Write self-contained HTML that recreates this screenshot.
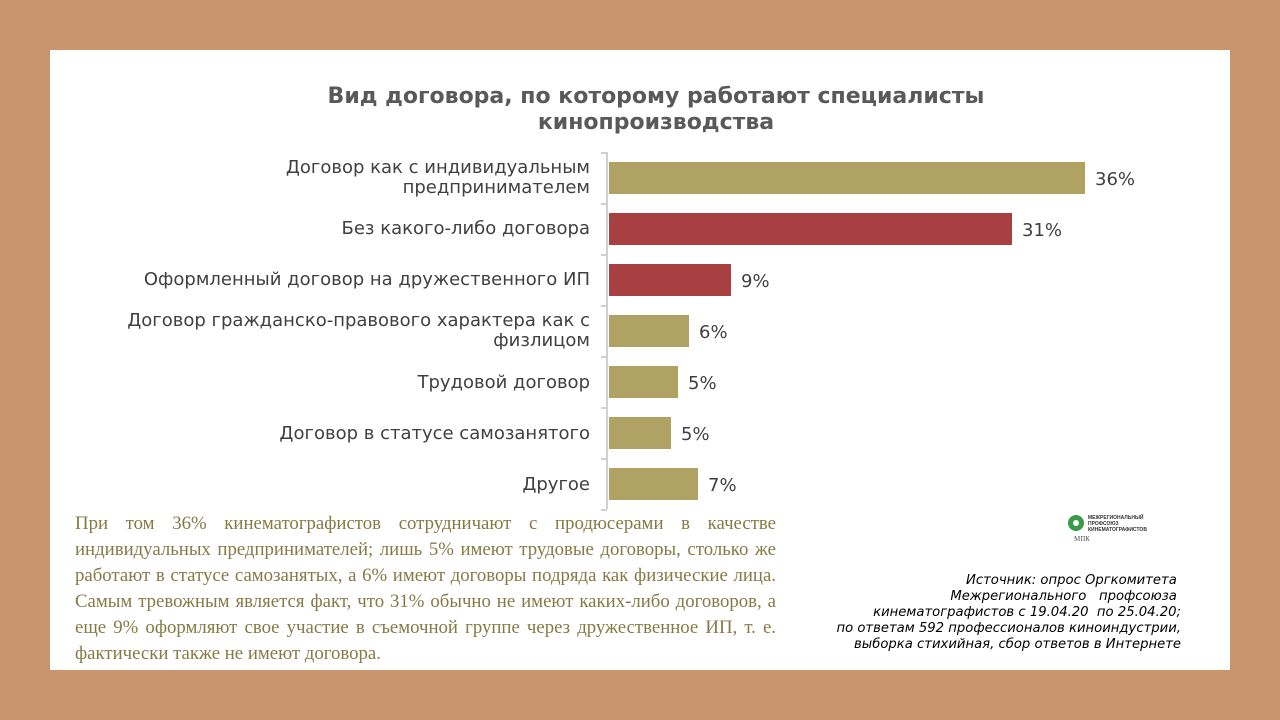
<!DOCTYPE html>
<html><head><meta charset="utf-8"><style>
body{margin:0;width:1280px;height:720px;background:#C8956F;position:relative;overflow:hidden;font-family:"DejaVu Sans",sans-serif}
.p{position:absolute;left:50px;top:50px;width:1180px;height:620px;background:#fff}
.t{position:absolute;left:0;width:1312px;top:84px;text-align:center;font-weight:bold;font-size:22px;line-height:26px;color:#595959}
.c{position:absolute;right:690px;text-align:right;font-size:18px;line-height:20px;color:#404040;width:520px}
.b{position:absolute;left:609px;height:32px}
.v{position:absolute;font-size:18px;color:#404040;line-height:20px}
.g{background:#B0A262}.r{background:#A84042}
.tx{position:absolute;left:75px;top:511px;width:701px;font-family:"Liberation Serif",serif;font-size:18.8px;line-height:26px;color:#857A45}
.tx span{display:block;text-align:justify;text-align-last:justify;white-space:nowrap}
.tx span.l{text-align-last:left}
.s{position:absolute;right:99px;top:573px;text-align:right;font-style:italic;font-size:13.2px;line-height:16px;color:#000}
</style></head><body>
<div class="p"></div>
<div class="t">Вид договора, по которому работают специалисты<br>кинопроизводства</div>
<div style="position:absolute;left:606px;top:152px;width:2px;height:357px;background:#d0d0d0"></div>
<div style="position:absolute;left:601px;top:152px;width:6px;height:2px;background:#d0d0d0"></div>
<div style="position:absolute;left:601px;top:203px;width:6px;height:2px;background:#d0d0d0"></div>
<div style="position:absolute;left:601px;top:254px;width:6px;height:2px;background:#d0d0d0"></div>
<div style="position:absolute;left:601px;top:305px;width:6px;height:2px;background:#d0d0d0"></div>
<div style="position:absolute;left:601px;top:356px;width:6px;height:2px;background:#d0d0d0"></div>
<div style="position:absolute;left:601px;top:407px;width:6px;height:2px;background:#d0d0d0"></div>
<div style="position:absolute;left:601px;top:458px;width:6px;height:2px;background:#d0d0d0"></div>
<div style="position:absolute;left:601px;top:509px;width:6px;height:2px;background:#d0d0d0"></div>

<div class="c" style="top:158px">Договор как с индивидуальным<br>предпринимателем</div>
<div class="c" style="top:219px">Без какого-либо договора</div>
<div class="c" style="top:270px">Оформленный договор на дружественного ИП</div>
<div class="c" style="top:311px">Договор гражданско-правового характера как с<br>физлицом</div>
<div class="c" style="top:373px">Трудовой договор</div>
<div class="c" style="top:424px">Договор в статусе самозанятого</div>
<div class="c" style="top:475px">Другое</div>

<div class="b g" style="top:162px;width:476px"></div><div class="v" style="left:1095px;top:170px">36%</div>
<div class="b r" style="top:213px;width:403px"></div><div class="v" style="left:1022px;top:221px">31%</div>
<div class="b r" style="top:264px;width:122px"></div><div class="v" style="left:741px;top:272px">9%</div>
<div class="b g" style="top:315px;width:80px"></div><div class="v" style="left:699px;top:323px">6%</div>
<div class="b g" style="top:366px;width:69px"></div><div class="v" style="left:688px;top:374px">5%</div>
<div class="b g" style="top:417px;width:62px"></div><div class="v" style="left:681px;top:425px">5%</div>
<div class="b g" style="top:468px;width:89px"></div><div class="v" style="left:708px;top:476px">7%</div>

<div class="tx"><span>При том 36% кинематографистов сотрудничают с продюсерами в качестве</span><span>индивидуальных предпринимателей; лишь 5% имеют трудовые договоры, столько же</span><span>работают в статусе самозанятых, а 6% имеют договоры подряда как физические лица.</span><span>Самым тревожным является факт, что 31% обычно не имеют каких-либо договоров, а</span><span>еще 9% оформляют свое участие в съемочной группе через дружественное ИП, т. е.</span><span class="l">фактически также не имеют договора.</span></div>

<div style="position:absolute;left:1068px;top:515px;width:16px;height:16px;border-radius:50%;background:#3a9a4a"></div>
<div style="position:absolute;left:1073px;top:520px;width:6px;height:6px;border-radius:50%;background:#fff"></div>
<div style="position:absolute;left:1088px;top:515px;font-size:5px;line-height:6px;font-weight:bold;color:#333;font-family:'Liberation Sans',sans-serif">МЕЖРЕГИОНАЛЬНЫЙ<br>ПРОФСОЮЗ<br>КИНЕМАТОГРАФИСТОВ</div>
<div style="position:absolute;left:1074px;top:535px;font-family:'Liberation Serif',serif;font-size:7px;color:#555">МПК</div>

<div class="s">Источник: опрос Оргкомитета&nbsp;<br>Межрегионального &nbsp; профсоюза&nbsp;<br>кинематографистов с 19.04.20 &nbsp;по 25.04.20;<br>по ответам 592 профессионалов киноиндустрии,<br>выборка стихийная, сбор ответов в Интернете</div>
</body></html>
